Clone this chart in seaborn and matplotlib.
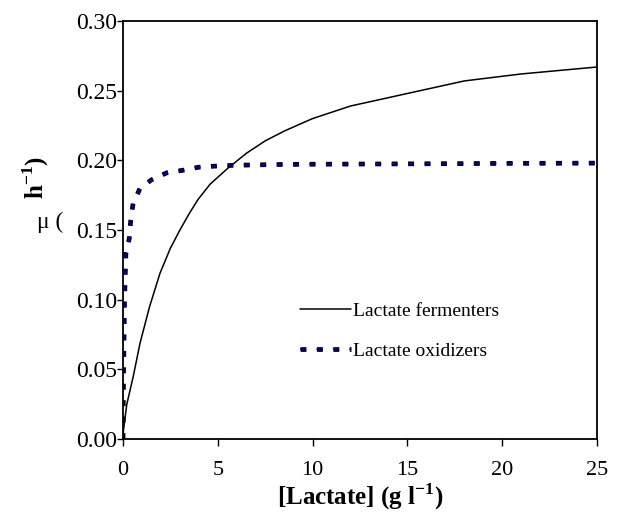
import numpy as np
import pandas as pd
import seaborn as sns
import matplotlib.pyplot as plt
import matplotlib.patheffects as pe

# values
ferm_x = [0, 0.02, 0.2, 0.54, 0.9, 1.4, 1.95, 2.5, 3.0, 3.5, 3.96, 4.6, 5.5, 6.5, 7.5, 8.5, 10, 12, 14, 16, 18, 21, 25]
ferm_y = [0, 0.006, 0.025, 0.045, 0.069, 0.095, 0.119, 0.137, 0.150, 0.162, 0.172, 0.183, 0.194, 0.205, 0.214, 0.221, 0.230, 0.239, 0.245, 0.251, 0.257, 0.262, 0.267]

oxid_x = [0, 0.03, 0.08, 0.15, 0.33, 0.4, 0.53, 0.9, 1.5, 2.3, 3.2, 3.95, 5, 6, 8, 10, 15, 20, 25]
oxid_y = [0, 0.05, 0.10, 0.133, 0.144, 0.156, 0.169, 0.180, 0.186, 0.191, 0.193, 0.195, 0.196, 0.1965, 0.197, 0.1972, 0.1975, 0.1978, 0.198]

x_ticks = [0, 5, 10, 15, 20, 25]
y_ticks = [0.00, 0.05, 0.10, 0.15, 0.20, 0.25, 0.30]

sns.set_style("ticks")
plt.rcParams["font.family"] = ["Liberation Serif", "DejaVu Serif"]
plt.rcParams["text.color"] = "black"
plt.rcParams["mathtext.fontset"] = "custom"
plt.rcParams["mathtext.rm"] = "Liberation Serif"
plt.rcParams["mathtext.bf"] = "Liberation Serif:bold"

fig = plt.figure(figsize=(6.17, 5.14), dpi=100)
ax = fig.add_axes([0.1994, 0.1459, 0.7682, 0.8132])

sns.lineplot(x=ferm_x, y=ferm_y, ax=ax, color="black", linewidth=1.1,
             label="Lactate fermenters")
sns.lineplot(x=oxid_x, y=oxid_y, ax=ax, color="#0000c8", linewidth=1.3,
             label="Lactate oxidizers", dashes=False)
oxline = ax.lines[1]
oxline.set_dashes([3.3, 5.8])
oxline.set_dash_capstyle("butt")
oxline.set_path_effects([pe.Stroke(linewidth=3.4, foreground="black"), pe.Normal()])

ax.set_xlim(0, 25)
ax.set_ylim(0, 0.30)
ax.set_xticks(x_ticks)
ax.set_xticklabels([str(v) for v in x_ticks])
ax.set_yticks(y_ticks)
ax.set_yticklabels([f"{v:.2f}" for v in y_ticks])
ax.tick_params(axis="x", length=5, width=1, pad=11, labelsize=16, colors="black")
ax.tick_params(axis="y", length=4, width=1, pad=0, labelsize=17, colors="black")
for s in ax.spines.values():
    s.set_linewidth(1.3)
    s.set_color("black")
ax.set_xlabel("")
ax.set_ylabel("")

leg = ax.legend(loc="upper left", bbox_to_anchor=(300 / 617, 1 - 302 / 514),
                bbox_transform=fig.transFigure, frameon=False, fontsize=14,
                handlelength=2.6, handletextpad=0.15, labelspacing=1.15,
                borderpad=0, borderaxespad=0)
for t in leg.get_texts():
    t.set_color("black")

fig.text(360 / 617, 1 - 497 / 514, r"[Lactate] (g l$^{\mathbf{-1}}$)",
         fontsize=18, fontweight="bold", ha="center", va="center")
fig.text(50 / 617, 1 - 222 / 514, "μ (", fontsize=17, ha="center", va="center")
fig.text(36 / 617, 1 - 178 / 514, r"$\mathbf{h}^{\mathbf{-1}}$)", fontsize=18,
         fontweight="bold", rotation=90, ha="center", va="center")

fig.savefig("out.png", dpi=100)
